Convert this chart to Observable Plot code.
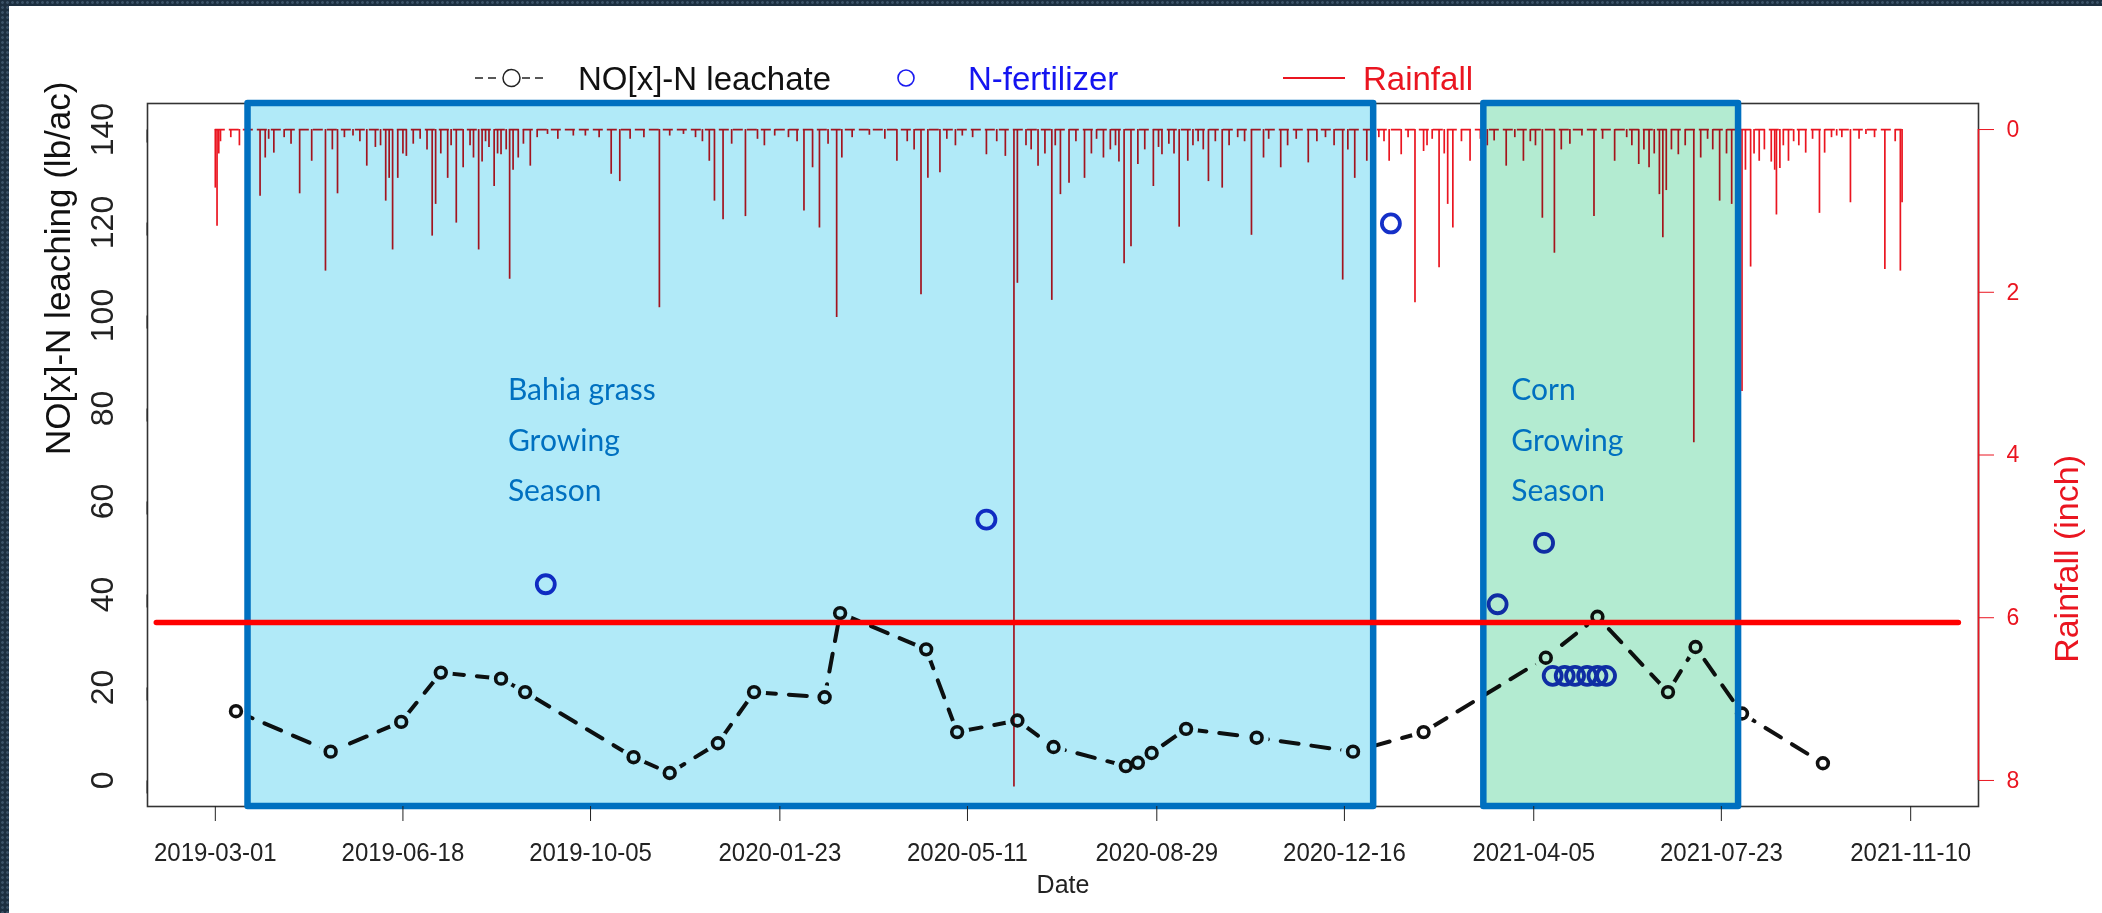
<!DOCTYPE html>
<html>
<head>
<meta charset="utf-8">
<script src="https://cdn.jsdelivr.net/npm/d3@7"></script>
<script src="https://cdn.jsdelivr.net/npm/@observablehq/plot@0.6"></script>
<style>
html,body{margin:0;padding:0;}
body{width:2102px;height:913px;position:relative;overflow:hidden;background-color:#1c2f40;
  background-image:radial-gradient(circle,#3a5166 1px,transparent 1.7px);background-size:5px 5px;}
#panel{position:absolute;left:9px;top:6px;right:0;bottom:0;background:#fff;}
#chart{position:absolute;left:0;top:0;}
#legend{position:absolute;left:0;top:0;}
</style>
</head>
<body>
<div id="panel"></div>
<div id="chart"></div>
<svg id="legend" width="2102" height="120"></svg>
<script>
// ---------------- data ----------------
// larger daily rainfall events (inch)
const rainDates = ["2019-03-01","2019-03-02","2019-03-03","2019-03-04","2019-03-27","2019-03-30","2019-04-04","2019-04-10","2019-04-19","2019-04-26",
"2019-05-04","2019-05-11","2019-05-20","2019-05-28","2019-06-05","2019-06-08","2019-06-10","2019-06-12","2019-06-15","2019-06-20",
"2019-06-28","2019-07-05","2019-07-07","2019-07-14","2019-07-19","2019-07-23","2019-07-27","2019-08-01","2019-08-05","2019-08-10",
"2019-08-14","2019-08-17","2019-08-19","2019-08-24","2019-08-31","2019-09-10","2019-09-25","2019-10-17","2019-10-22","2019-11-05",
"2019-11-14","2019-11-28","2019-12-13","2019-12-16","2019-12-21","2019-12-26","2020-01-03","2020-01-20","2020-02-06","2020-02-11",
"2020-02-15","2020-02-25","2020-02-28","2020-03-15","2020-03-31","2020-04-14","2020-04-18","2020-04-25","2020-05-08","2020-05-22",
"2020-06-02","2020-06-07","2020-06-09","2020-06-14","2020-06-21","2020-06-29","2020-07-04","2020-07-09","2020-07-13","2020-07-18",
"2020-07-25","2020-08-05","2020-08-10","2020-08-14","2020-08-18","2020-08-22","2020-08-27","2020-09-01","2020-09-05","2020-09-11",
"2020-09-16","2020-09-22","2020-09-28","2020-10-06","2020-10-15","2020-10-23","2020-10-30","2020-11-09","2020-11-18","2020-11-25",
"2020-12-05","2020-12-15","2020-12-22","2020-12-29","2021-01-05","2021-01-11","2021-01-18","2021-01-26","2021-01-31","2021-02-05",
"2021-02-09","2021-02-14","2021-02-17","2021-02-22","2021-02-27","2021-03-13","2021-03-20","2021-03-30","2021-04-10","2021-04-17",
"2021-04-26","2021-05-03","2021-05-10","2021-05-22","2021-05-29","2021-06-05","2021-06-11","2021-06-17","2021-06-19","2021-06-21",
"2021-06-28","2021-07-07","2021-07-15","2021-07-22","2021-07-29","2021-08-04","2021-08-09","2021-08-14","2021-08-21","2021-08-23",
"2021-08-24","2021-08-26","2021-08-31","2021-09-10","2021-09-18","2021-09-21","2021-09-28","2021-10-06","2021-10-15","2021-10-26",
"2021-11-04","2021-11-05"];
const rainInches = [0.72,1.19,0.30,0.15,0.82,0.35,0.29,0.10,0.79,0.39,
1.74,0.79,0.08,0.45,0.20,0.88,0.60,1.48,0.60,0.33,
0.12,1.31,0.92,0.60,1.15,0.47,0.20,1.48,0.15,0.70,
0.31,0.25,1.84,0.35,0.45,0.06,0.08,0.55,0.64,0.10,
2.19,0.06,0.39,0.88,1.11,0.18,1.07,0.08,1.00,0.47,
1.21,2.31,0.35,0.07,0.39,2.03,0.60,0.53,0.08,0.31,
0.33,8.08,1.89,0.20,0.45,2.10,0.80,0.66,0.15,0.60,
0.12,0.20,1.65,1.44,0.43,0.25,0.70,0.31,0.18,1.20,
0.39,0.15,0.64,0.72,0.10,1.30,0.35,0.47,0.12,0.41,
0.10,1.85,0.60,0.39,0.10,0.39,0.31,2.13,0.27,0.12,
1.70,0.92,1.21,0.15,0.39,0.14,0.45,0.39,1.09,1.52,
0.18,0.08,1.07,0.39,0.10,0.43,0.47,0.80,1.33,0.75,
0.31,3.85,0.12,0.88,0.92,3.22,1.69,0.39,0.40,0.50,
1.05,0.48,0.39,0.29,1.03,0.29,0.08,0.90,0.06,1.72,
1.74,0.90];
// light daily rainfall events (inch)
const lightRainDates = ["2019-03-10","2019-03-15","2019-04-01","2019-04-14","2019-05-08","2019-05-15","2019-05-24","2019-06-02","2019-06-18","2019-06-24",
"2019-07-02","2019-07-10","2019-07-16","2019-07-29","2019-08-03","2019-08-07","2019-08-12","2019-08-21","2019-08-27","2019-09-04",
"2019-09-16","2019-10-02","2019-10-10","2019-10-28","2019-11-20","2019-12-05","2019-12-09","2020-01-10","2020-01-14","2020-01-28",
"2020-02-02","2020-02-20","2020-03-05","2020-03-24","2020-04-06","2020-04-10","2020-04-29","2020-05-04","2020-05-14","2020-05-28",
"2020-06-17","2020-06-25","2020-07-01","2020-07-22","2020-07-29","2020-08-02","2020-08-07","2020-08-30","2020-09-08","2020-09-19",
"2020-09-25","2020-10-02","2020-10-10","2020-10-19","2020-11-02","2020-11-13","2020-11-30","2020-12-10","2020-12-18","2021-01-08",
"2021-01-22","2021-02-02","2021-02-12","2021-03-05","2021-03-09","2021-03-25","2021-04-03","2021-04-06","2021-04-21","2021-05-15",
"2021-06-01","2021-06-08","2021-06-14","2021-06-24","2021-07-02","2021-07-11","2021-07-18","2021-07-26","2021-08-02","2021-08-06",
"2021-08-11","2021-08-17","2021-08-28","2021-09-03","2021-09-06","2021-09-14","2021-09-25","2021-10-01","2021-10-11","2021-10-20",
"2021-11-01"];
const lightRainInches = [0.10,0.20,0.12,0.18,0.25,0.10,0.15,0.22,0.30,0.18,
0.25,0.30,0.20,0.35,0.40,0.22,0.30,0.50,0.18,0.10,
0.12,0.08,0.10,0.12,0.08,0.10,0.15,0.12,0.20,0.10,
0.15,0.18,0.10,0.12,0.15,0.25,0.12,0.20,0.10,0.15,
0.25,0.30,0.20,0.30,0.35,0.25,0.40,0.22,0.30,0.20,
0.25,0.15,0.20,0.15,0.12,0.20,0.15,0.20,0.25,0.15,
0.10,0.20,0.30,0.12,0.20,0.10,0.15,0.20,0.25,0.12,
0.20,0.25,0.30,0.25,0.20,0.35,0.25,0.30,0.40,0.50,
0.30,0.25,0.20,0.15,0.20,0.12,0.10,0.10,0.12,0.10,
0.15];

const leachDates = ["2019-03-13","2019-05-07","2019-06-17","2019-07-10","2019-08-14","2019-08-28","2019-10-30","2019-11-20","2019-12-18","2020-01-08",
"2020-02-18","2020-02-27","2020-04-17","2020-05-05","2020-06-09","2020-06-30","2020-08-11","2020-08-18","2020-08-26","2020-09-15",
"2020-10-26","2020-12-21","2021-01-31","2021-04-12","2021-05-12","2021-06-22","2021-07-08","2021-08-04","2021-09-20"];
const leachValues = [14.9,6.2,12.6,23.2,21.9,19.0,5.0,1.6,8.0,19.0,
17.9,36.0,28.2,10.4,12.9,7.2,3.1,3.8,5.9,11.1,
9.2,6.2,10.4,26.4,35.2,19.0,28.7,14.4,3.7];

const fertDates = ["2019-09-09","2020-05-22","2021-01-12","2021-03-15","2021-04-11","2021-04-16","2021-04-23","2021-04-29","2021-05-06","2021-05-12","2021-05-17"];
const fertValues = [42.2,56.1,119.8,37.9,51.1,22.5,22.5,22.5,22.5,22.5,22.5];

const xTickLabels = ["2019-03-01","2019-06-18","2019-10-05","2020-01-23","2020-05-11","2020-08-29","2020-12-16","2021-04-05","2021-07-23","2021-11-10"];
const yTicksLeft = [0,20,40,60,80,100,120,140];
const rainTicks = [0,2,4,6,8];

const seasonNames = ["Bahia grass\nGrowing\nSeason","Corn\nGrowing\nSeason"];
const seasonStart = ["2019-03-20","2021-03-07"];
const seasonEnd = ["2021-01-02","2021-08-02"];
const seasonFill = ["#b1eaf8","#b3ebd1"];
const seasonLabelDate = ["2019-08-18","2021-03-23"];
const seasonLabelValue = [89.5,89.5];

const thresholdValue = [34];
const thresholdFrom = ["2019-01-26"];
const thresholdTo = ["2021-12-08"];

const legendLabels = ["NO[x]-N leachate","N-fertilizer","Rainfall"];

// ---------------- build ----------------
const parse = d3.utcParse("%Y-%m-%d");
const RED = "#ea1520";
const rain = rainDates.map((d,i)=>({date:parse(d), r:rainInches[i]}))
  .concat(lightRainDates.map((d,i)=>({date:parse(d), r:lightRainInches[i]})));
const rainFirst = d3.min(rain, d => d.date), rainLast = d3.max(rain, d => d.date);
const leach = leachDates.map((d,i)=>({date:parse(d), v:leachValues[i]}));
const fert = fertDates.map((d,i)=>({date:parse(d), v:fertValues[i]}));
const seasons = seasonNames.map((n,i)=>({name:n, start:parse(seasonStart[i]), end:parse(seasonEnd[i]), fill:seasonFill[i], ldate:parse(seasonLabelDate[i]), lv:seasonLabelValue[i]}));
const threshold = thresholdValue.map((v,i)=>({v, from:parse(thresholdFrom[i]), to:parse(thresholdTo[i])}));

// R-style axis extension (4%)
const xMin = parse(xTickLabels[0]), xMax = parse(xTickLabels[xTickLabels.length-1]);
const pad = (xMax - xMin) * 0.04;
const xDomain = [new Date(+xMin - pad), new Date(+xMax + pad)];
const yDomain = [0 - 140*0.04, 140 + 140*0.04];
// secondary (rainfall) axis: 0 in at 140, 8 in at 0, reversed
const rainToY = r => 140 - r * 17.5;

const chart = Plot.plot({
  width: 2102, height: 913,
  marginLeft: 147, marginRight: 124, marginTop: 103, marginBottom: 107,
  x: {type: "utc", domain: xDomain},
  y: {domain: yDomain},
  style: {background: "transparent", fontFamily: "'Liberation Sans', Arial, sans-serif", overflow: "visible"},
  marks: [
    Plot.frame({stroke: "#333", strokeWidth: 1.6}),
    // leachate line (R type "b": line broken around each point)
    Plot.line(leach, {x: "date", y: "v", stroke: "#111", strokeWidth: 4, strokeDasharray: "18,13"}),
    Plot.dot(leach, {x: "date", y: "v", r: 12, fill: "white", stroke: "none"}),
    Plot.ruleY([0], {y: () => rainToY(0), x1: () => rainFirst, x2: () => rainLast, stroke: RED, strokeWidth: 1.8, strokeDasharray: "10,4"}),
    Plot.ruleX(rain, {x: "date", y1: () => rainToY(0), y2: d => rainToY(d.r), stroke: RED, strokeWidth: 1.7}),
    Plot.dot(leach, {x: "date", y: "v", r: 5.4, stroke: "#111", strokeWidth: 3.6, fill: "none"}),
    Plot.dot(fert, {x: "date", y: "v", r: 9, stroke: "#1530c8", strokeWidth: 3.8, fill: "none"}),
    Plot.rect(seasons, {x1: "start", x2: "end", fill: d => d.fill, mixBlendMode: "multiply"}),
    Plot.rect(seasons, {x1: "start", x2: "end", fill: "none", stroke: "#0070c0", strokeWidth: 6.5, strokeLinejoin: "round"}),
    Plot.ruleY(threshold, {y: "v", x1: "from", x2: "to", stroke: "#ff0000", strokeWidth: 5.5, strokeLinecap: "round"}),
    Plot.text(seasons, {x: "ldate", y: "lv", text: "name", textAnchor: "start", lineAnchor: "top", lineHeight: 1.68, fontSize: 30, fill: "#0070c0", fontFamily: "Lato, 'Open Sans', sans-serif"}),
    Plot.axisX({ticks: xTickLabels.map(parse), tickFormat: d3.utcFormat("%Y-%m-%d"), tickSize: 15, tickPadding: 22, fontSize: 25, color: "#222", label: null}),
    Plot.axisY({anchor: "left", ticks: yTicksLeft, tickSize: 13, tickPadding: 22, fontSize: 32, rotate: -90, textAnchor: "middle", lineAnchor: "bottom", color: "#222", label: null}),
    Plot.axisY({anchor: "right", ticks: rainTicks.map(rainToY), tickFormat: d => d3.format("d")((140 - d) / 17.5), tickSize: 15, tickPadding: 13, fontSize: 23, color: RED, label: null}),
    Plot.ruleX([xDomain[1]], {y1: () => rainToY(0), y2: () => rainToY(8), stroke: RED, strokeWidth: 1.6}),
    Plot.text(["NO[x]-N leaching (lb/ac)"], {text: d => d, frameAnchor: "left", dx: -89, rotate: -90, fontSize: 35, fill: "#111"}),
    Plot.text(["Rainfall (inch)"], {text: d => d, frameAnchor: "right", dx: 89, rotate: -90, fontSize: 34, fill: RED}),
    Plot.text(["Date"], {text: d => d, frameAnchor: "bottom", dy: 86, fontSize: 25, fill: "#222"})
  ]
});
document.getElementById("chart").appendChild(chart);
// make sure the season fills blend like a highlighter
const rectGroups = chart.querySelectorAll('g[aria-label="rect"]');
if (rectGroups.length) rectGroups[0].style.mixBlendMode = "multiply";
chart.querySelectorAll('g[aria-label="x-axis tick label"] text').forEach(t => {
  t.setAttribute("transform", (t.getAttribute("transform") || "") + " scale(0.96,1)");
});

// ---------------- legend ----------------
const lg = d3.select("#legend");
const F = "'Liberation Sans', Arial, sans-serif";
const cy = 78, base = 90;
lg.append("line").attr("x1",475).attr("x2",501).attr("y1",cy).attr("y2",cy).attr("stroke","#222").attr("stroke-width",1.5).attr("stroke-dasharray","8,5");
lg.append("line").attr("x1",522).attr("x2",548).attr("y1",cy).attr("y2",cy).attr("stroke","#222").attr("stroke-width",1.5).attr("stroke-dasharray","8,5");
lg.append("circle").attr("cx",511.5).attr("cy",cy).attr("r",8.5).attr("fill","none").attr("stroke","#222").attr("stroke-width",1.5);
lg.append("text").attr("x",578).attr("y",base).attr("font-family",F).attr("font-size",33).attr("fill","#111").text(legendLabels[0]);
lg.append("circle").attr("cx",906).attr("cy",cy).attr("r",8).attr("fill","none").attr("stroke","#1a1af0").attr("stroke-width",1.6);
lg.append("text").attr("x",968).attr("y",base).attr("font-family",F).attr("font-size",33).attr("fill","#1414f0").text(legendLabels[1]);
lg.append("line").attr("x1",1283).attr("x2",1345).attr("y1",cy).attr("y2",cy).attr("stroke",RED).attr("stroke-width",1.8);
lg.append("text").attr("x",1363).attr("y",base).attr("font-family",F).attr("font-size",33).attr("fill",RED).text(legendLabels[2]);
</script>
</body>
</html>
